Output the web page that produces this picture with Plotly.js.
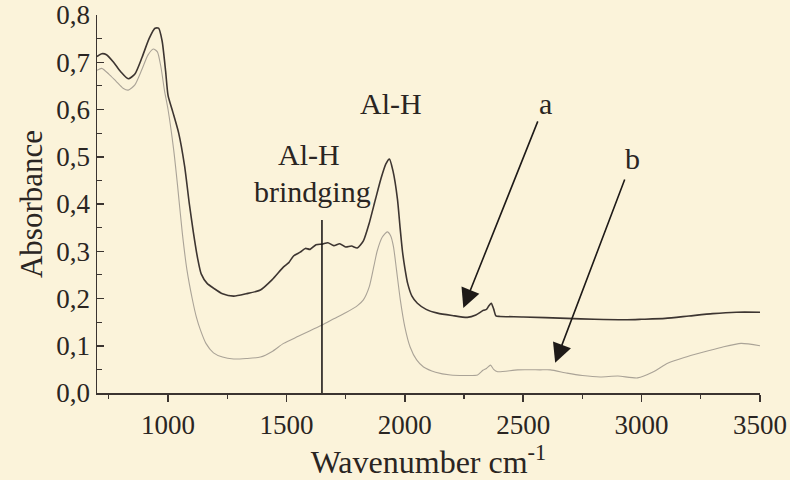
<!DOCTYPE html>
<html>
<head>
<meta charset="utf-8">
<script src="https://cdn.plot.ly/plotly-3.0.1.min.js"></script>
<style>html,body{margin:0;padding:0;background:#fbf3da;}#chart{width:790px;height:480px;}</style>
</head>
<body>
<div id="chart"></div>
<script>
// Spectrum a (upper, dark)
const waveA = [700,720,740,770,800,832,860,890,920,945,960,975,990,1000,1020,1045,1070,1090,1107,1125,1140,1165,1192,1230,1277,1330,1390,1440,1488,1510,1530,1558,1580,1600,1625,1651,1675,1700,1725,1750,1775,1799,1825,1850,1876,1900,1920,1935,1950,1969,1980,1990,2000,2012,2030,2053,2090,2138,2200,2264,2300,2332,2345,2353,2365,2375,2385,2402,2500,2685,2800,2938,3000,3100,3200,3300,3400,3500];
const absA  = [0.712,0.718,0.716,0.700,0.680,0.665,0.675,0.710,0.750,0.772,0.772,0.745,0.680,0.630,0.595,0.550,0.480,0.400,0.340,0.285,0.252,0.232,0.222,0.210,0.205,0.210,0.218,0.240,0.267,0.276,0.290,0.298,0.306,0.304,0.314,0.315,0.318,0.312,0.316,0.309,0.311,0.307,0.322,0.360,0.410,0.455,0.485,0.495,0.470,0.410,0.350,0.300,0.265,0.232,0.205,0.190,0.177,0.169,0.164,0.160,0.165,0.175,0.177,0.183,0.190,0.178,0.163,0.162,0.161,0.158,0.156,0.155,0.156,0.158,0.163,0.168,0.171,0.171];
// Spectrum b (lower, light)
const waveB = [700,720,750,780,810,832,860,890,915,938,955,970,985,1000,1024,1040,1060,1080,1102,1120,1137,1160,1192,1230,1277,1330,1390,1440,1488,1550,1600,1651,1700,1750,1800,1825,1850,1870,1883,1905,1926,1940,1952,1965,1981,2000,2022,2050,2079,2130,2193,2250,2307,2330,2345,2362,2375,2392,2476,2571,2615,2685,2750,2825,2900,2983,3050,3110,3180,3250,3340,3420,3500];
const absB  = [0.683,0.687,0.675,0.660,0.645,0.641,0.652,0.685,0.715,0.728,0.722,0.690,0.640,0.600,0.514,0.440,0.340,0.260,0.200,0.160,0.133,0.105,0.085,0.076,0.072,0.073,0.076,0.088,0.105,0.120,0.132,0.144,0.157,0.170,0.185,0.197,0.225,0.270,0.300,0.330,0.341,0.333,0.310,0.260,0.197,0.140,0.098,0.070,0.055,0.044,0.038,0.037,0.038,0.048,0.052,0.059,0.050,0.045,0.049,0.049,0.049,0.042,0.037,0.034,0.036,0.032,0.045,0.063,0.075,0.085,0.097,0.105,0.100];
// Marker line for bridging Al-H
const bridgeLineX = [1650, 1650];
const bridgeLineY = [0, 0.366];
// Ticks
const xTickVals = [1000,1500,2000,2500,3000,3500];
const xTickLabels = ["1000","1500","2000","2500","3000","3500"];
const yTickVals = [0,0.1,0.2,0.3,0.4,0.5,0.6,0.7,0.8];
const yTickLabels = ["0,0","0,1","0,2","0,3","0,4","0,5","0,6","0,7","0,8"];
// Labels
const peakLabels = ["Al-H", "Al-H", "brindging"];
const peakLabelX = [1943, 1594, 1609];
const peakLabelY = [0.612, 0.504, 0.427];
const curveLabels = ["a", "b"];
const curveLabelX = [2593, 2961];
const curveLabelY = [0.612, 0.497];
const arrowTipX = [2247, 2635];
const arrowTipY = [0.180, 0.064];
const arrowTailX = [2564, 2931];
const arrowTailY = [0.578, 0.455];

const serif = "Liberation Serif, DejaVu Serif, serif";
const ink = "#2a2522";

const traces = [
  {x: waveA, y: absA, type: "scatter", mode: "lines", line: {color: "#3d3531", width: 1.6, shape: "spline", smoothing: 0.6}, hoverinfo: "skip"},
  {x: waveB, y: absB, type: "scatter", mode: "lines", line: {color: "#aaa397", width: 1.1, shape: "spline", smoothing: 0.6}, hoverinfo: "skip"},
  {x: bridgeLineX, y: bridgeLineY, type: "scatter", mode: "lines", line: {color: "#1e1a18", width: 1.6}, hoverinfo: "skip"}
];

const annotations = [];
peakLabels.forEach((t, i) => annotations.push({x: peakLabelX[i], y: peakLabelY[i], xref: "x", yref: "y", text: t, showarrow: false, font: {family: serif, size: 30, color: ink}}));
curveLabels.forEach((t, i) => {
  annotations.push({x: curveLabelX[i], y: curveLabelY[i], xref: "x", yref: "y", text: t, showarrow: false, font: {family: serif, size: 30, color: ink}});
  annotations.push({x: arrowTipX[i], y: arrowTipY[i], xref: "x", yref: "y", ax: arrowTailX[i], ay: arrowTailY[i], axref: "x", ayref: "y", text: "", showarrow: true, arrowhead: 2, arrowsize: 2.4, arrowwidth: 1.6, arrowcolor: "#1e1a18", standoff: 0});
});

const layout = {
  width: 790, height: 480,
  paper_bgcolor: "#fbf3da", plot_bgcolor: "#fbf3da",
  margin: {l: 97, r: 30, t: 15, b: 87},
  showlegend: false,
  font: {family: serif, color: ink},
  xaxis: {
    range: [700, 3500], showgrid: false, zeroline: false, showline: true, linecolor: "#3b3430", linewidth: 1.5,
    tickmode: "array", tickvals: xTickVals, ticktext: xTickLabels, ticks: "outside", ticklen: 7, tickwidth: 1.5, tickcolor: "#3b3430",
    minor: {dtick: 250, tick0: 0, ticks: "outside", ticklen: 4, tickwidth: 1.2, tickcolor: "#3b3430"},
    tickfont: {family: serif, size: 27, color: ink},
    title: {text: "Wavenumber cm<sup>-1</sup>", font: {family: serif, size: 32, color: ink}, standoff: 8}
  },
  yaxis: {
    range: [0, 0.8], showgrid: false, zeroline: false, showline: true, linecolor: "#3b3430", linewidth: 1.5,
    tickmode: "array", tickvals: yTickVals, ticktext: yTickLabels, ticks: "inside", ticklen: 7, tickwidth: 1.5, tickcolor: "#3b3430",
    minor: {dtick: 0.05, tick0: 0, ticks: "inside", ticklen: 5, tickwidth: 1.2, tickcolor: "#3b3430"},
    tickfont: {family: serif, size: 27, color: ink},
    title: {text: "Absorbance", font: {family: serif, size: 31, color: ink}, standoff: 4}
  },
  annotations: annotations
};

Plotly.newPlot("chart", traces, layout, {staticPlot: true, displayModeBar: false});
</script>
</body>
</html>
